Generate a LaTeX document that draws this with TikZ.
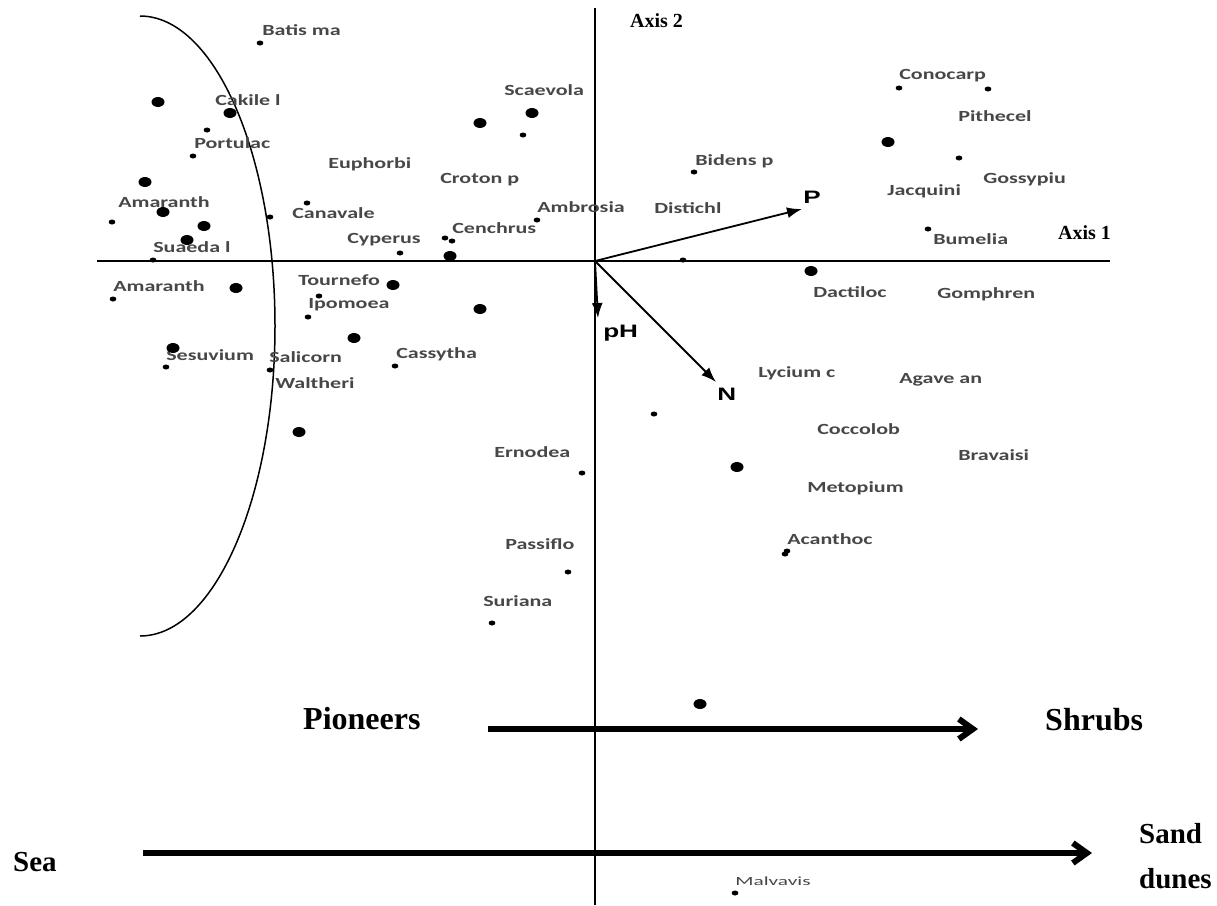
\documentclass[tikz,border=0pt]{standalone}
\usepackage{fontspec}
\newfontfamily\spfont{Carlito}
\newfontfamily\axfont{Liberation Serif}
\newfontfamily\vecfont{Liberation Sans}
\usetikzlibrary{arrows.meta, positioning}

\tikzset{
  lab/.style={font=\spfont\bfseries\fontsize{15.5}{18}\selectfont, xscale=1.42, anchor=base west, inner sep=0pt, text=black!72},
  sdot/.style={circle, fill, inner sep=0pt, minimum size=5pt, xscale=1.35},
  bdot/.style={circle, fill, inner sep=0pt, minimum size=10pt, xscale=1.3},
  vec/.style={-{Latex[length=15pt, width=11pt]}, line width=1.8pt},
  veclab/.style={font=\vecfont\bfseries\fontsize{18}{20}\selectfont, xscale=1.45, anchor=base west, inner sep=0pt},
  ttl/.style={font=\axfont\bfseries\fontsize{20}{22}\selectfont, anchor=base west, inner sep=0pt},
  zone/.style={font=\axfont\bfseries\fontsize{32}{34}\selectfont, anchor=base west, inner sep=0pt},
  side/.style={font=\axfont\bfseries\fontsize{29}{45}\selectfont, anchor=base west, inner sep=0pt, align=left},
  trend/.style={line width=6pt, -{Straight Barb[length=14pt, width=20pt]}}
}

\begin{document}
\begin{tikzpicture}[x=1pt, y=-1pt]
      \useasboundingbox (0,0) rectangle (1217,905);

      % Achsen
      \coordinate (o) at (595,261);
      \coordinate (ytop) at (595,8);
      \coordinate (ybot) at (595,905);
      \coordinate (xl) at (97,261);
      \coordinate (xr) at (1110,261);
      \draw[line width=2pt] (ytop) -- (ybot);
      \draw[line width=2pt] (xl) -- (xr);
      \node[ttl] (axis2) at (630,27) {Axis 2};
      \node[ttl] (axis1) at (1058,239) {Axis 1};

      % Bogen
      \coordinate (arctop) at (140,16);
      \draw[line width=1.5pt] (arctop) arc[start angle=90, end angle=-90, x radius=135pt, y radius=310pt];

      % Arten
      \node[lab] (batis) at (262,35) {Batis ma};
      \node[lab] (cakile) at (215,105) {Cakile l};
      \node[lab] (portulac) at (194,148) {Portulac};
      \node[lab] (euphorbi) at (328,168) {Euphorbi};
      \node[lab] (amaranth1) at (118,207) {Amaranth};
      \node[lab] (canavale) at (292,218) {Canavale};
      \node[lab] (suaeda) at (153,252) {Suaeda l};
      \node[lab] (cyperus) at (347,243) {Cyperus};
      \node[lab] (scaevola) at (504,95) {Scaevola};
      \node[lab] (croton) at (440,183) {Croton p};
      \node[lab] (ambrosia) at (537,212) {Ambrosia};
      \node[lab] (cenchrus) at (452,233) {Cenchrus};
      \node[lab] (bidens) at (695,165) {Bidens p};
      \node[lab] (distichl) at (654,213) {Distichl};
      \node[lab] (conocarp) at (899,79) {Conocarp};
      \node[lab] (pithecel) at (958,121) {Pithecel};
      \node[lab] (gossypiu) at (983,183) {Gossypiu};
      \node[lab] (jacquini) at (887,195) {Jacquini};
      \node[lab] (bumelia) at (933,244) {Bumelia};
      \node[lab] (gomphren) at (937,298) {Gomphren};
      \node[lab] (dactiloc) at (813,297) {Dactiloc};
      \node[lab] (amaranth2) at (113,291) {Amaranth};
      \node[lab] (tournefo) at (298,285) {Tournefo};
      \node[lab] (ipomoea) at (308,308) {Ipomoea};
      \node[lab] (sesuvium) at (166,360) {Sesuvium};
      \node[lab] (salicorn) at (269,362) {Salicorn};
      \node[lab] (cassytha) at (396,358) {Cassytha};
      \node[lab] (waltheri) at (275,388) {Waltheri};
      \node[lab] (lycium) at (758,377) {Lycium c};
      \node[lab] (agave) at (899,383) {Agave an};
      \node[lab] (coccolob) at (817,434) {Coccolob};
      \node[lab] (bravaisi) at (958,460) {Bravaisi};
      \node[lab] (metopium) at (807,492) {Metopium};
      \node[lab] (ernodea) at (494,457) {Ernodea};
      \node[lab] (acanthoc) at (787,544) {Acanthoc};
      \node[lab] (passiflo) at (505,549) {Passiflo};
      \node[lab] (suriana) at (483,606) {Suriana};
      \node[lab, font=\spfont\fontsize{12.5}{14}\selectfont, xscale=1.2] (malvavis) at (735,885) {Malvavis};

      % Punkte
      \node[bdot] (d1) at (158,102) {};
      \node[bdot] (d2) at (230,113) {};
      \node[sdot] (d3) at (207,130) {};
      \node[sdot] (d4) at (193,156) {};
      \node[bdot] (d5) at (145,182) {};
      \node[bdot] (d6) at (163,212) {};
      \node[sdot] (d7) at (112,222) {};
      \node[bdot] (d8) at (204,226) {};
      \node[sdot] (d9) at (270,217) {};
      \node[sdot] (d10) at (307,203) {};
      \node[bdot] (d11) at (187,240) {};
      \node[sdot] (d12) at (153,260) {};
      \node[sdot] (d13) at (260,43) {};
      \node[sdot] (d14) at (400,253) {};
      \node[bdot] (d15) at (532,113) {};
      \node[bdot] (d16) at (480,123) {};
      \node[sdot] (d17) at (523,135) {};
      \node[sdot] (d18) at (537,220) {};
      \node[sdot] (d19) at (445,238) {};
      \node[sdot] (d20) at (452,241) {};
      \node[bdot] (d21) at (450,256) {};
      \node[sdot] (d22) at (694,172) {};
      \node[sdot] (d23) at (683,260) {};
      \node[bdot] (d24) at (811,271) {};
      \node[bdot] (d25) at (888,142) {};
      \node[sdot] (d26) at (899,88) {};
      \node[sdot] (d27) at (988,89) {};
      \node[sdot] (d28) at (959,158) {};
      \node[sdot] (d29) at (928,229) {};
      \node[sdot] (d30) at (113,299) {};
      \node[bdot] (d31) at (236,288) {};
      \node[bdot] (d32) at (393,285) {};
      \node[sdot] (d33) at (319,296) {};
      \node[sdot] (d34) at (308,317) {};
      \node[bdot] (d35) at (354,338) {};
      \node[bdot] (d36) at (173,348) {};
      \node[sdot] (d37) at (166,367) {};
      \node[sdot] (d38) at (270,370) {};
      \node[sdot] (d39) at (395,366) {};
      \node[bdot] (d40) at (299,432) {};
      \node[bdot] (d41) at (480,309) {};
      \node[sdot] (d42) at (654,414) {};
      \node[bdot] (d43) at (737,467) {};
      \node[sdot] (d44) at (582,473) {};
      \node[sdot] (d45) at (785,554) {};
      \node[sdot] (d46) at (787,551) {};
      \node[sdot] (d47) at (568,572) {};
      \node[sdot] (d48) at (492,623) {};
      \node[bdot] (d49) at (700,704) {};
      \node[sdot] (d50) at (735,893) {};

      % Vektoren
      \coordinate (ptip) at (802,209);
      \coordinate (ntip) at (716,382);
      \coordinate (phtip) at (598,318);
      \draw[vec] (o) -- (ptip);
      \draw[vec] (o) -- (ntip);
      \draw[vec] (o) -- (phtip);
      \node[veclab] (plab) at (803,203) {P};
      \node[veclab] (nlab) at (717,400) {N};
      \node[veclab] (phlab) at (603,337) {pH};

      % Gradienten
      \node[zone] (pioneers) at (303,729) {Pioneers};
      \node[zone] (shrubs) at (1045,730) {Shrubs};
      \node[side] (sea) at (13,871) {Sea};
      \node[side] (sand) at (1139,888) {Sand\\dunes};
      \coordinate (ps) at (488,729);
      \coordinate (pe) at (978,729);
      \coordinate (ss) at (143,853);
      \coordinate (se) at (1092,853);
      \draw[trend] (ps) -- (pe);
      \draw[trend] (ss) -- (se);

\end{tikzpicture}
\end{document}
